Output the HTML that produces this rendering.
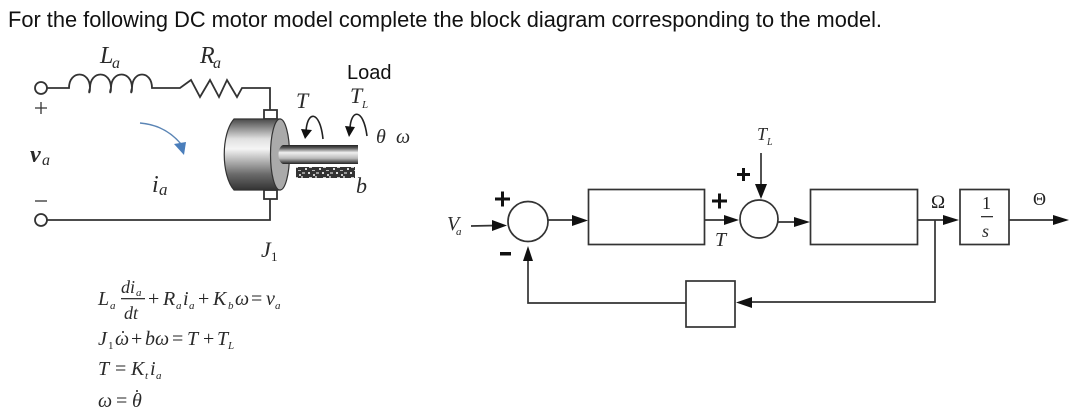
<!DOCTYPE html>
<html><head><meta charset="utf-8"><style>
html,body{margin:0;padding:0;background:#fff}
svg{display:block}
.t{font-family:"Liberation Serif",serif;font-style:italic;fill:#2a2a2a}
.r{font-family:"Liberation Serif",serif;fill:#222}
.s{font-family:"Liberation Sans",sans-serif;fill:#111}
</style></head><body>
<svg width="1085" height="419" viewBox="0 0 1085 419" xmlns="http://www.w3.org/2000/svg">
<defs>
<linearGradient id="cyl" x1="0" y1="0" x2="0" y2="1">
<stop offset="0" stop-color="#4a4a4a"/><stop offset=".28" stop-color="#e0e0e0"/><stop offset=".42" stop-color="#f5f5f5"/><stop offset=".78" stop-color="#6a6a6a"/><stop offset="1" stop-color="#333"/></linearGradient>
<linearGradient id="sh" x1="0" y1="0" x2="0" y2="1">
<stop offset="0" stop-color="#222"/><stop offset=".15" stop-color="#555"/><stop offset=".4" stop-color="#f0f0f0"/><stop offset=".7" stop-color="#bbb"/><stop offset="1" stop-color="#222"/></linearGradient>
<pattern id="fr" width="14" height="11" patternUnits="userSpaceOnUse">
<rect width="14" height="11" fill="#333"/>
<rect x="1" y="1" width="3" height="2" fill="#ccc"/><rect x="7" y="0" width="2" height="2" fill="#aaa"/><rect x="11" y="3" width="2" height="2" fill="#ddd"/>
<rect x="4" y="5" width="3" height="1" fill="#bbb"/><rect x="0" y="7" width="2" height="2" fill="#ddd"/><rect x="8" y="7" width="3" height="2" fill="#999"/><rect x="5" y="9" width="2" height="2" fill="#ccc"/></pattern>
</defs>
<rect width="1085" height="419" fill="#fff"/>
<text class="s" x="8" y="27" font-size="22.5" textLength="874" lengthAdjust="spacingAndGlyphs">For the following DC motor model complete the block diagram corresponding to the model.</text>

<!-- circuit -->
<g fill="none" stroke="#333" stroke-width="1.8">
<circle cx="41" cy="88" r="6"/><circle cx="41" cy="220" r="6"/>
<path d="M47 88H69C69 70 90 70 90 88C88 94 90 94 90 88C90 70 111 70 111 88C109 94 111 94 111 88C111 70 132 70 132 88C130 94 132 94 132 88C132 70 152 70 152 88H180L191 80L200 97L210 80L219 97L227 80L237 97L242 88H270V110"/>
<path d="M47 220H270V199"/>
<path d="M35 108H47M41 102V114" stroke-width="1.3"/><path d="M35 201H47" stroke-width="1.3"/>
<rect x="264" y="110" width="13" height="9" fill="#fff"/>
<rect x="264" y="190" width="13" height="9" fill="#fff"/>
</g>
<path d="M234 119H280V190H234C221 175 221 134 234 119Z" fill="url(#cyl)" stroke="#333" stroke-width="1.2"/>
<ellipse cx="280" cy="154.5" rx="9.500" ry="35.500" fill="#aaa" stroke="#333" stroke-width="1.2"/>
<path d="M283 145H358V164H283C277 162 277 147 283 145Z" fill="url(#sh)"/>
<rect x="296" y="167" width="59" height="11" fill="url(#fr)"/>
<path d="M140 123Q165 125 181 144" fill="none" stroke="#5b85b5" stroke-width="1.4"/>
<path d="M174 144L186 142L184 155Z" fill="#4a7ebb"/>
<g fill="none" stroke="#222" stroke-width="1.6">
<path d="M323 139C320 110 307 110 306 132"/><path d="M367 136C363 106 350 110 350 130"/>
</g>
<path d="M301 129L312 130L305 139Z M345 126L355 127L349 137Z" fill="#111"/>
<text class="t" x="100" y="63" font-size="24">L</text><text class="t" x="112" y="68" font-size="16">a</text>
<text class="t" x="200" y="63" font-size="24">R</text><text class="t" x="213" y="68" font-size="16">a</text>
<text class="s" x="347" y="79" font-size="20">Load</text>
<text class="t" x="296" y="108" font-size="22">T</text>
<text class="t" x="350" y="103" font-size="22">T</text><text class="t" x="362" y="108" font-size="11">L</text>
<text class="t" x="376" y="143" font-size="20">θ</text><text class="t" x="396" y="143" font-size="20">ω</text>
<text class="t" x="30" y="162" font-size="24" font-weight="bold">v</text><text class="t" x="42" y="165" font-size="16">a</text>
<text class="t" x="152" y="192" font-size="24">i</text><text class="t" x="159" y="195" font-size="17">a</text>
<text class="t" x="356" y="193" font-size="22">b</text>
<text class="t" x="261" y="257" font-size="22">J</text><text class="r" x="271" y="261" font-size="13">1</text>

<!-- equations -->
<g font-size="20">
<text class="t" x="98" y="305">L</text><text class="t" x="110" y="309" font-size="11">a</text>
<text class="t" x="121" y="293" font-size="18">di</text><text class="t" x="136" y="296" font-size="11">a</text>
<text class="t" x="124" y="319" font-size="18">dt</text>
<rect x="121" y="298" width="24" height="1.300" fill="#333"/>
<text class="r" x="148" y="305">+</text><text class="t" x="163" y="305">R</text><text class="t" x="176" y="309" font-size="11">a</text>
<text class="t" x="183" y="305">i</text><text class="t" x="189" y="309" font-size="11">a</text>
<text class="r" x="198" y="305">+</text><text class="t" x="213" y="305">K</text><text class="t" x="228" y="309" font-size="11">b</text>
<text class="t" x="235" y="305">ω</text><text class="r" x="251" y="305">=</text><text class="t" x="266" y="305">v</text><text class="t" x="275" y="309" font-size="11">a</text>

<text class="t" x="98" y="345">J</text><text class="r" x="108" y="349" font-size="11">1</text><text class="t" x="115" y="345">ω</text><circle cx="123" cy="332" r="1" fill="#222"/>
<text class="r" x="131" y="345">+</text><text class="t" x="145" y="345">bω</text><text class="r" x="172" y="345">=</text>
<text class="t" x="187" y="345">T</text><text class="r" x="203" y="345">+</text><text class="t" x="217" y="345">T</text><text class="t" x="228" y="349" font-size="11">L</text>

<text class="t" x="98" y="375">T</text><text class="r" x="115" y="375">=</text><text class="t" x="131" y="375">K</text><text class="t" x="145" y="379" font-size="11">t</text>
<text class="t" x="150" y="375">i</text><text class="t" x="156" y="379" font-size="11">a</text>

<text class="t" x="98" y="407">ω</text><text class="r" x="116" y="407">=</text><text class="t" x="132" y="407">θ</text><circle cx="137" cy="391" r="1" fill="#222"/>
</g>

<!-- block diagram -->
<g fill="none" stroke="#333" stroke-width="1.700">
<circle cx="528" cy="221.500" r="20"/>
<circle cx="759" cy="219" r="19"/>
<rect x="588.500" y="189.500" width="116" height="55"/>
<rect x="810.500" y="189.500" width="107" height="55"/>
<rect x="960" y="189.500" width="49" height="55"/>
<rect x="686" y="281" width="49" height="46"/>
<path d="M471 226L496 225.500"/>
<path d="M548 220H575"/><path d="M704 220H727"/>
<path d="M761 153V190"/><path d="M778 222H798"/>
<path d="M917 220H945"/><path d="M1009 220H1055"/>
<path d="M935 220V302H750"/>
<path d="M686 303H528V255"/>
</g>
<path d="M492 220L507 225.500L492 231Z M572 215L588 220.500L572 226Z M724 215L739 220L724 225Z M755 184H767L761 199Z M794 217L810 222L794 227Z M943 215L959 220L943 225Z M1053 215L1069 220L1053 225Z M752 297L736 302.500L752 308Z M523 261L528 246L533 261Z" fill="#111"/>
<g fill="#111">
<path d="M495 197.500H510V200.500H495Z M501 191.500H504V206.500H501Z"/>
<rect x="500" y="252" width="11" height="3.500"/>
<path d="M712 199.500H727V202.500H712Z M718 193.500H721V208.500H718Z"/>
<path d="M737 173H750V176H737Z M742 168H745V181H742Z"/>
</g>
<text class="t" x="447" y="230" font-size="20">V</text><text class="t" x="456" y="235" font-size="11">a</text>
<text class="t" x="715" y="246" font-size="20">T</text>
<text class="t" x="757" y="140" font-size="18">T</text><text class="t" x="767" y="145" font-size="10">L</text>
<text class="r" x="931" y="208" font-size="19">Ω</text>
<text class="r" x="1033" y="205" font-size="18">Θ</text>
<text class="r" x="982" y="209" font-size="18">1</text>
<rect x="981" y="216" width="12" height="1.300" fill="#333"/>
<text class="t" x="982" y="237" font-size="18">s</text>
</svg>
</body></html>
